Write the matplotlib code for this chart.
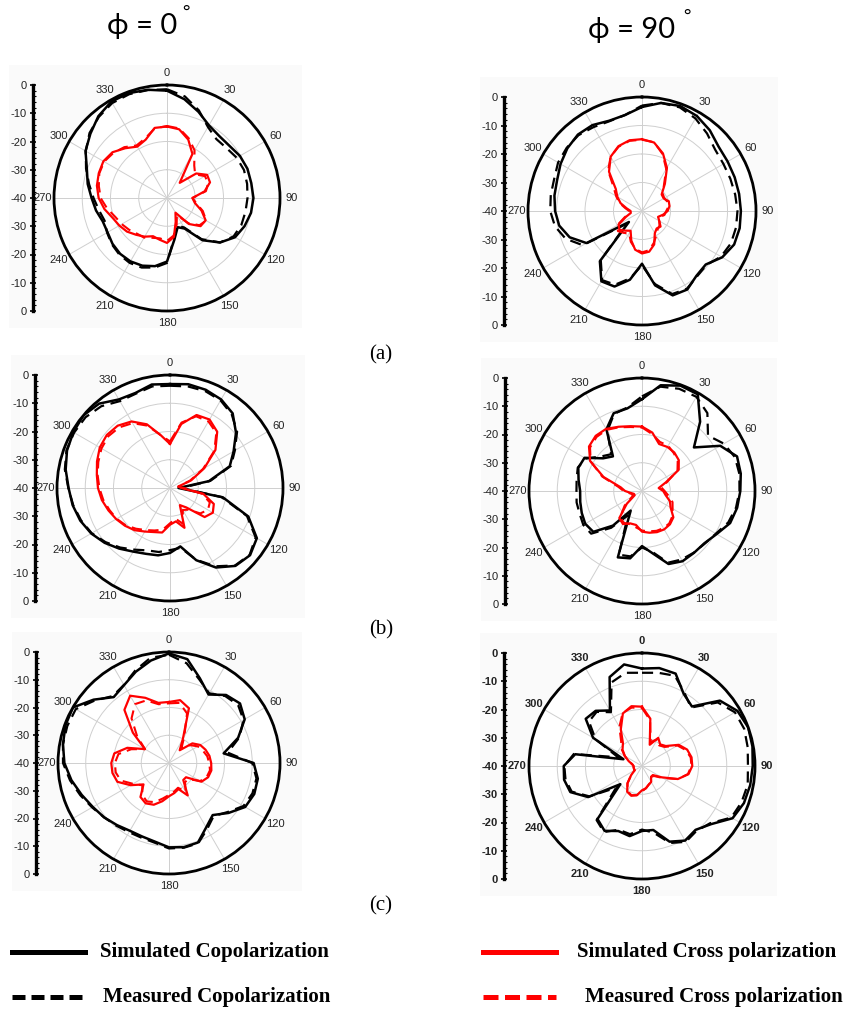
import numpy as np
import matplotlib
matplotlib.use('Agg')
import matplotlib.pyplot as plt
from matplotlib.lines import Line2D
from matplotlib.patches import Rectangle
from matplotlib.ticker import MultipleLocator

W, H = 845, 1010

# pattern sampled every 10 deg (0..350), values in dB
ang = np.arange(0, 360, 10)

# (a) phi = 0
a0_sim_co = [-2, -4.5, -7.5, -10.3, -11.3, -11.2, -10.2, -9.7, -9.7, -9.4, -9.8, -10.8, -12.2, -15.5, -20.5, -27.5, -29, -25,
             -17.5, -15.5, -14.5, -14.1, -14.2, -14.8, -15.7, -15.8, -14.5, -13.3, -11.5, -9.8, -6.7, -4.6, -2.2, -0.6, -0.5, -1.1]
a0_mea_co = [-1.5, -3.5, -7, -11, -12.8, -12.5, -11.5, -11, -11.2, -11.5, -11.8, -12, -12.8, -15.5, -21, -28, -29.5, -25.5,
             -17, -15, -13.8, -13.5, -13.8, -14.5, -15.5, -16.5, -15.5, -14, -12, -9.5, -6.8, -4.2, -2.5, -1.2, -0.9, -1.2]
a0_sim_x = [-14.7, -15.3, -18, -22, -33, -26.5, -23.6, -23.8, -26.5, -31, -30, -27, -24.2, -24.5, -28, -34, -31, -26,
            -24.1, -25, -25.6, -24.2, -23, -21.5, -20.5, -19.5, -17.5, -15.8, -14.8, -14.3, -14, -14.8, -17, -19, -18, -14.8]
a0_mea_x = [-14.5, -15, -17.5, -20.5, -25, -27, -24.5, -24.5, -26, -31, -29.5, -26.5, -24, -25, -28.5, -33, -30, -26.5,
            -24.8, -25.5, -25, -23.8, -23.5, -22.5, -21.5, -20.5, -18.5, -16.5, -15.5, -14.5, -14.3, -15.2, -16.5, -18.5, -17.5, -15]

# (a) phi = 90
a90_sim_co = [-3.5, -1.5, -0.8, -1.5, -3, -4.9, -5.3, -5.4, -5.4, -5.3, -5.2, -5.6, -7.5, -10.8, -10.3, -8.2, -8.5, -13.5,
              -21.5, -15.5, -11.8, -11.5, -17, -34, -17.5, -13, -10.5, -9.5, -8.8, -8.3, -7, -5.8, -5, -5.2, -6.3, -5.8]
a90_mea_co = [-3, -1.5, -1.3, -2.5, -4.5, -6.5, -7, -7, -6.8, -6.5, -6.5, -6.8, -8, -10.5, -10, -8.5, -9, -14,
              -21, -16, -12.5, -12, -17.5, -33, -16, -11.5, -9, -7.8, -7.5, -7.2, -6, -5.5, -5.3, -6, -6.5, -5.8]
a90_sim_x = [-14.8, -15.6, -18.5, -22.5, -27.5, -31, -31.2, -30, -30.2, -31, -32.5, -34, -33, -31.5, -32, -31, -27.5, -25.5,
             -25.1, -26.2, -29, -32, -31, -29.7, -30.5, -34, -36, -36, -34.5, -32, -30, -28, -22, -18, -15.8, -14.8]
a90_mea_x = [-15, -15.5, -18.8, -23, -28, -30.5, -31, -30.5, -30.5, -31.5, -32, -33.5, -33, -32, -31.5, -30, -28, -26,
             -25.5, -26.5, -28.5, -31, -30, -29, -30, -33.5, -35.5, -35.5, -34, -31.5, -29.5, -27, -21.5, -18, -16, -15]

# (b) phi = 0
b0_sim_co = [-3.2, -2.7, -3.0, -3.8, -5.5, -9.5, -14, -17.5, -26, -37, -21, -10.5, -4.5, -3, -4, -7.5, -12.8, -19,
             -17, -15.8, -15.2, -14, -12, -9.8, -7.8, -6.2, -5, -4.1, -2.5, -1.2, -0.5, 0, -1, -3.8, -4.2, -2.8]
b0_mea_co = [-3.8, -3.5, -3.5, -4.2, -6, -9, -13.5, -17, -25.5, -36, -21.5, -11, -5, -3.2, -4.2, -8, -13, -18.5,
             -18, -17, -16.5, -14.8, -12.5, -10.2, -8, -6.5, -5.2, -4, -2.2, -1, -0.8, -1, -2.2, -4.5, -4.5, -3.5]
b0_sim_x = [-24.4, -17, -12.5, -12, -14, -19, -26, -32, -37, -36, -28, -23.5, -22.5, -24, -31, -33, -25, -28,
            -27, -24, -23.4, -22.2, -20.5, -19.2, -18, -16.8, -15.5, -14.5, -13.7, -12.5, -11.3, -10.8, -11.2, -12.8, -16, -21]
b0_mea_x = [-23.5, -16.5, -13, -12.8, -14.5, -19.5, -26.5, -32.5, -37, -35, -28.5, -25, -24.5, -26, -30, -31, -26.5, -29,
            -27.5, -25, -24, -22.8, -21.2, -19.5, -18.2, -17.2, -16, -15, -14, -13, -12, -11.5, -12, -13.5, -16.5, -21]

# (b) phi = 90
b90_sim_co = [-7.5, -2, -0.3, -0.5, -8, -16, -8, -4.2, -4.5, -5.2, -5.8, -6.8, -9.5, -11.2, -11.4, -11.3, -12.5, -17.5,
              -20.5, -15.8, -15, -32, -24, -17.5, -16.8, -17.3, -17.8, -18.1, -17.2, -16, -16.5, -22, -24, -14.8, -10.7, -10.3]
b90_mea_co = [-6.5, -2.5, -1.5, -1.5, -4, -9.5, -6.5, -5, -5, -5.5, -6.2, -7.5, -9.8, -11, -11.5, -12, -13, -18,
              -20, -16.5, -16, -30, -23, -16.5, -16, -16.5, -16.5, -16.8, -16.5, -15.8, -17, -21, -23, -15.5, -11, -10]
b90_sim_x = [-17.2, -19, -22.3, -22, -22.2, -23, -25, -31, -34, -32.5, -31.5, -29.5, -28.3, -25.5, -24.6, -24.3, -24.5, -25,
             -25.6, -27.8, -27.8, -26.5, -27.5, -33, -37, -37, -36, -34, -32.3, -25.5, -18.8, -15.5, -14.5, -14.6, -15.8, -16.7]
b90_mea_x = [-17.5, -19.5, -21.5, -21.5, -22.5, -23.5, -25.5, -30.5, -33, -32, -30.5, -28.5, -27.5, -26, -25, -24.8, -25, -25.5,
             -26, -27, -27.5, -27, -28, -32, -36, -36.5, -35.5, -33.5, -31.5, -25, -19, -16, -15, -15, -16, -17]

# (c) phi = 0
c0_sim_co = [-0.5, -2, -7.5, -11.5, -8, -6.6, -8.5, -13.5, -20, -9.5, -7.5, -7.3, -8.3, -12, -15.5, -13.2, -9.5, -9.2,
             -9.6, -11.2, -11.8, -11.8, -10.8, -9.5, -8.3, -6.5, -4.3, -2.3, -1.2, -0.3, 0, -4.5, -9, -7.6, -5, -2.5]
c0_mea_co = [-1, -3.5, -8, -11, -8.5, -7.5, -9, -13, -18.5, -10, -8, -8, -9, -12.5, -15, -12.5, -9.2, -9,
             -9.2, -10.8, -11.3, -11.2, -10.5, -9.5, -8, -6, -3.8, -1.8, -1.2, -1, -1.2, -5, -8.5, -7.5, -4.5, -1.5]
c0_sim_x = [-18, -17, -19, -30, -34, -29, -27, -26, -25.2, -24.8, -24.5, -25, -26.5, -32, -32, -26.5, -30, -29,
            -28, -26, -24, -23.2, -24, -28, -24, -20.2, -19.3, -19.2, -20, -24, -30, -23, -15, -12, -15, -18]
c0_mea_x = [-18.5, -18, -21, -29, -33, -30, -28, -27, -26, -25.5, -25, -25.5, -27, -31, -31, -28, -30.5, -29.5,
            -28.5, -27, -25, -24, -25, -27.5, -25, -21.5, -20.5, -20.5, -21.5, -25.5, -30, -25, -19, -15.5, -16, -18.5]

# (c) phi = 90
c90_sim_co = [-5.5, -4.8, -5.2, -10.5, -12.5, -4, -1, 0, -0.3, -0.8, -1.1, -1.6, -3, -8, -10.5, -9.5, -11.5, -17,
              -17, -14.8, -15.5, -13.5, -15.5, -30, -18, -13, -12, -12.3, -16, -33, -20, -14, -14.5, -17.3, -6.5, -3.5]
c90_mea_co = [-7, -6.5, -6, -10, -13, -5, -2, -1.5, -2, -2.5, -2, -2.5, -3.5, -8.5, -10, -9, -11, -16,
              -17.5, -15.5, -16, -13, -15, -28, -18.5, -13.5, -12.5, -12.5, -15.5, -31, -21, -15.5, -15, -18, -8.5, -6.5]
c90_sim_x = [-19, -23, -32, -28.5, -30, -29, -25, -23, -22.2, -22.2, -23.3, -26.5, -32, -35, -35, -33.5, -33, -32,
             -31.4, -29.5, -28.8, -29.5, -32, -35, -37, -37, -37, -37, -36.5, -35, -33, -31, -29.5, -25, -20.2, -18.5]
c90_mea_x = [-19.5, -23.5, -31, -29, -30.5, -29.5, -25.5, -23.5, -22.5, -22.5, -23.5, -26.5, -31.5, -34.5, -35, -33.5, -33, -32,
             -31, -29.5, -29, -29.8, -32, -35, -37, -37, -37, -37, -36.5, -35, -33, -30.5, -28.5, -24, -20, -19]

scale_labels = ['0', '-10', '-20', '-30', '-40', '-30', '-20', '-10', '0']
theta_labels = [str(a) for a in range(0, 360, 30)]
legend_labels = ['Simulated Copolarization', 'Measured Copolarization',
                 'Simulated Cross polarization', 'Measured Cross polarization']
row_labels = ['(a)', '(b)', '(c)']

fig = plt.figure(figsize=(W / 100, H / 100), dpi=100)
fig.patch.set_facecolor('white')
tick_font = 'Liberation Sans'


def fx(x):
    return x / W


def fy(y):
    return 1 - y / H


def panel(cx, cy, R, bar_x, sim_co, mea_co, sim_x, mea_x, bold=False):
    weight = 'bold' if bold else 'normal'
    # faint gray panel background
    fig.add_artist(Rectangle((fx(bar_x - 24), fy(cy + R + 17)), (cx + R + 22 - bar_x + 24) / W,
                             (2 * R + 37) / H, transform=fig.transFigure,
                             facecolor='#fafafa', edgecolor='none', zorder=-10))

    ax = fig.add_axes([fx(cx - R), fy(cy + R), 2 * R / W, 2 * R / H], projection='polar')
    ax.set_theta_zero_location('N')
    ax.set_theta_direction(-1)
    ax.set_ylim(-40, 0)
    ax.set_rgrids([-30, -20, -10], labels=[])
    ax.set_thetagrids(range(0, 360, 30), theta_labels, fontsize=8, color='#222222',
                      fontweight=weight, family=tick_font)
    ax.grid(True, color='#cfcfcf', lw=0.7)
    ax.spines['polar'].set_linewidth(2.0)
    ax.tick_params(axis='x', direction='inout', length=5, width=1.3, colors='black', pad=-1,
                   labelcolor='#222222')
    ax.set_facecolor('white')

    th = np.deg2rad(np.append(ang, 360))
    closed = lambda v: np.append(v, v[0])
    ax.plot(th, closed(sim_co), color='black', lw=1.8, zorder=3)
    ax.plot(th, closed(mea_co), color='black', lw=1.6, dashes=(5, 3), zorder=3)
    ax.plot(th, closed(sim_x), color='#ff0000', lw=1.6, zorder=4)
    ax.plot(th, closed(mea_x), color='#ff0000', lw=1.5, dashes=(5, 3), zorder=4)

    # dB scale bar on the left
    sx = fig.add_axes([fx(bar_x), fy(cy + R), 0.001, 2 * R / H])
    sx.patch.set_visible(False)
    for s in ['top', 'right', 'bottom']:
        sx.spines[s].set_visible(False)
    sx.spines['left'].set_linewidth(2.4)
    sx.set_xticks([])
    sx.set_ylim(0, 80)
    sx.set_yticks(np.arange(0, 81, 10))
    sx.set_yticklabels(scale_labels[::-1], fontsize=8, color='#222222', fontweight=weight,
                       family=tick_font)
    sx.yaxis.set_minor_locator(MultipleLocator(2))
    sx.tick_params(axis='y', which='major', direction='inout', length=5, width=1.2, pad=2)
    sx.tick_params(axis='y', which='minor', direction='in', length=2, width=0.8)


panel(167, 198, 113, 33, a0_sim_co, a0_mea_co, a0_sim_x, a0_mea_x)
panel(642, 211, 114, 504, a90_sim_co, a90_mea_co, a90_sim_x, a90_mea_x)
panel(170, 488, 113, 35, b0_sim_co, b0_mea_co, b0_sim_x, b0_mea_x)
panel(642, 491, 113, 505, b90_sim_co, b90_mea_co, b90_sim_x, b90_mea_x)
panel(169, 763, 111, 36, c0_sim_co, c0_mea_co, c0_sim_x, c0_mea_x)
panel(642, 766, 113, 504, c90_sim_co, c90_mea_co, c90_sim_x, c90_mea_x, bold=True)

# column headings
head_font = ['Lato', 'DejaVu Sans']
fig.text(fx(142), fy(26), 'ϕ = 0', fontsize=21, family=head_font, ha='center', va='center')
fig.text(fx(186), fy(12), '°', fontsize=13, family=head_font, ha='center', va='center')
fig.text(fx(632), fy(30), 'ϕ = 90', fontsize=21, family=head_font, ha='center', va='center')
fig.text(fx(687), fy(16), '°', fontsize=13, family=head_font, ha='center', va='center')

# row labels
for lab, y in zip(row_labels, [355, 630, 906]):
    fig.text(fx(381), fy(y), lab, fontsize=15, family='Liberation Serif', ha='center', va='center')

# legend
leg_font = dict(fontsize=15, family='Liberation Serif', fontweight='bold', va='center', ha='left')
fig.add_artist(Line2D([fx(12), fx(85)], [fy(952), fy(952)], color='black', lw=3.6))
fig.add_artist(Line2D([fx(12), fx(85)], [fy(997), fy(997)], color='black', lw=3.6, dashes=(2.6, 1.2)))
fig.add_artist(Line2D([fx(483), fx(556)], [fy(952), fy(952)], color='#ff0000', lw=3.6))
fig.add_artist(Line2D([fx(483), fx(556)], [fy(997), fy(997)], color='#ff0000', lw=3.6, dashes=(3.0, 1.3)))
fig.text(fx(100), fy(952), legend_labels[0], **leg_font)
fig.text(fx(103), fy(997), legend_labels[1], **leg_font)
fig.text(fx(577), fy(952), legend_labels[2], **leg_font)
fig.text(fx(585), fy(997), legend_labels[3], **leg_font)

fig.savefig('out.png', dpi=100)
